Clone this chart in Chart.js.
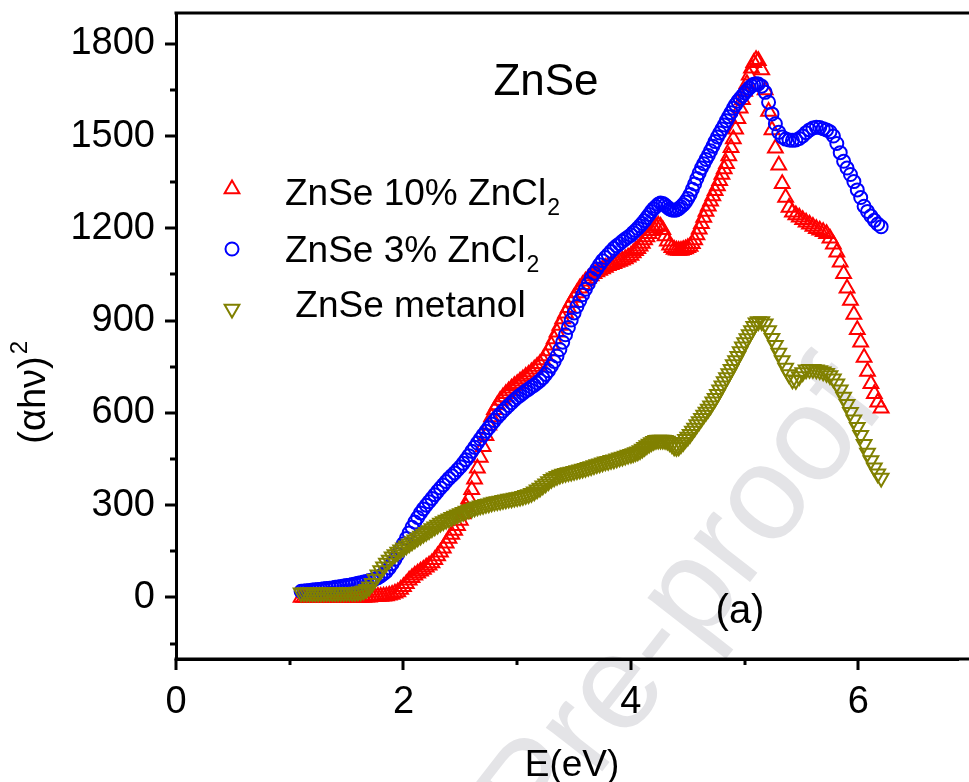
<!DOCTYPE html>
<html>
<head>
<meta charset="utf-8">
<script src="https://cdn.jsdelivr.net/npm/chart.js@4"></script>
<style>
  html, body { margin: 0; padding: 0; background: #fff; overflow: hidden; }
  canvas { display: block; }
</style>
</head>
<body>
<canvas id="myChart" width="969" height="782"></canvas>
<script>
// photon energy (eV)
const energy = [
  1.100, 1.125, 1.150, 1.175, 1.200, 1.225, 1.250, 1.275, 1.300, 1.325,
  1.350, 1.375, 1.400, 1.425, 1.450, 1.475, 1.500, 1.525, 1.550, 1.575,
  1.600, 1.625, 1.650, 1.675, 1.700, 1.725, 1.750, 1.775, 1.800, 1.825,
  1.850, 1.875, 1.900, 1.925, 1.950, 1.975, 2.000, 2.025, 2.050, 2.075,
  2.100, 2.125, 2.150, 2.175, 2.200, 2.225, 2.250, 2.275, 2.300, 2.325,
  2.350, 2.375, 2.400, 2.425, 2.450, 2.475, 2.500, 2.525, 2.550, 2.575,
  2.600, 2.625, 2.650, 2.675, 2.700, 2.725, 2.750, 2.775, 2.800, 2.825,
  2.850, 2.875, 2.900, 2.925, 2.950, 2.975, 3.000, 3.025, 3.050, 3.075,
  3.100, 3.125, 3.150, 3.175, 3.200, 3.225, 3.250, 3.275, 3.300, 3.325,
  3.350, 3.375, 3.400, 3.425, 3.450, 3.475, 3.500, 3.525, 3.550, 3.575,
  3.600, 3.625, 3.650, 3.675, 3.700, 3.725, 3.750, 3.775, 3.800, 3.825,
  3.850, 3.875, 3.900, 3.925, 3.950, 3.975, 4.000,
  4.02, 4.04, 4.06, 4.08, 4.10, 4.12, 4.14, 4.16, 4.18, 4.20,
  4.22, 4.24, 4.26, 4.28, 4.30, 4.32, 4.34, 4.36, 4.38, 4.40,
  4.42, 4.44, 4.46, 4.48, 4.50, 4.52, 4.54, 4.56, 4.58, 4.60,
  4.62, 4.64, 4.66, 4.68, 4.70, 4.72, 4.74, 4.76, 4.78, 4.80,
  4.82, 4.84, 4.86, 4.88, 4.90, 4.92, 4.94, 4.96, 4.98, 5.00,
  5.02, 5.04, 5.06, 5.08, 5.10, 5.12,
  5.15, 5.18, 5.21, 5.24, 5.27, 5.30, 5.33, 5.36, 5.39, 5.42,
  5.45, 5.48, 5.51, 5.54, 5.57, 5.60, 5.63, 5.66, 5.69, 5.72,
  5.75, 5.78, 5.81, 5.84, 5.87, 5.90, 5.93, 5.96, 5.99, 6.02,
  6.05, 6.08, 6.11, 6.14, 6.17, 6.20
];

// (alpha h nu)^2, ZnSe 10% ZnCl2
const zncl10 = [
  0, 0, 0, 0, 0, 0, 0, 0, 0, 0,
  0, 0, 0, 0, 0, 0, 0, 0, 0, 0,
  0, 0, 0, 1, 1, 2, 2, 3, 3, 4,
  5, 7, 10, 14, 18, 26, 35, 45, 56, 64,
  72, 79, 85, 91, 98, 105, 112, 123, 135, 147,
  160, 176, 192, 205, 218, 233, 250, 271, 295, 321,
  350, 384, 420, 455, 490, 526, 560, 587, 610, 626,
  640, 652, 662, 671, 680, 688, 695, 703, 710, 718,
  725, 733, 742, 751, 760, 772, 785, 801, 820, 840,
  862, 884, 905, 924, 942, 959, 975, 990, 1005, 1017,
  1028, 1037, 1045, 1052, 1058, 1063, 1068, 1073, 1078, 1082,
  1085, 1089, 1092, 1096, 1100, 1106, 1112,
  1120, 1127, 1134, 1142, 1151, 1162, 1172, 1182, 1192, 1200,
  1206, 1210, 1206, 1195, 1175, 1158, 1145, 1137, 1131, 1129,
  1128, 1128, 1130, 1133, 1137, 1141, 1150, 1162, 1178, 1197,
  1215, 1235, 1255, 1272, 1288, 1305, 1322, 1338, 1355, 1375,
  1393, 1410, 1435, 1462, 1490, 1522, 1556, 1590, 1618, 1645,
  1670, 1698, 1720, 1738, 1748, 1745,
  1715, 1650, 1580, 1520, 1460, 1405, 1345, 1300, 1268, 1252,
  1243, 1236, 1228, 1220, 1213, 1206, 1199, 1194, 1189, 1182,
  1168, 1148, 1122, 1090, 1052, 1005, 965, 920, 870, 830,
  780, 735, 695, 662, 635, 615
];

// ZnSe 3% ZnCl2
const zncl3 = [
  20, 21, 22, 23, 24, 25, 26, 27, 28, 29,
  30, 31, 33, 34, 36, 37, 39, 40, 42, 44,
  46, 48, 50, 52, 55, 57, 60, 64, 70, 77,
  85, 96, 110, 124, 140, 157, 175, 192, 210, 228,
  245, 260, 275, 288, 300, 311, 322, 334, 345, 356,
  366, 377, 387, 396, 405, 415, 425, 436, 448, 461,
  475, 488, 502, 515, 528, 540, 552, 564, 575, 586,
  596, 606, 615, 624, 633, 642, 650, 657, 664, 671,
  677, 684, 690, 697, 705, 714, 725, 737, 752, 767,
  785, 806, 830, 854, 878, 902, 925, 946, 965, 984,
  1002, 1020, 1038, 1054, 1068, 1082, 1095, 1105, 1115, 1125,
  1135, 1143, 1150, 1158, 1165, 1172, 1178,
  1186, 1193, 1200, 1208, 1216, 1225, 1235, 1245, 1255, 1264,
  1271, 1278, 1282, 1281, 1276, 1269, 1263, 1260, 1259, 1260,
  1264, 1270, 1277, 1286, 1297, 1310, 1327, 1344, 1362, 1380,
  1396, 1410, 1424, 1437, 1452, 1467, 1482, 1497, 1510, 1523,
  1536, 1550, 1563, 1576, 1590, 1602, 1613, 1622, 1631, 1640,
  1648, 1656, 1663, 1668, 1670, 1669,
  1662, 1642, 1610, 1572, 1540, 1512, 1497, 1490, 1487, 1486,
  1487, 1492, 1500, 1511, 1520, 1526, 1529, 1528, 1524, 1520,
  1514, 1500, 1476, 1446, 1418, 1396, 1375, 1352, 1325, 1300,
  1272, 1255, 1240, 1226, 1214, 1205
];

// ZnSe metanol
const metanol = [
  15, 15, 15, 15, 15, 15, 15, 15, 15, 16,
  16, 16, 16, 16, 16, 16, 17, 17, 17, 17,
  18, 19, 22, 27, 35, 46, 60, 74, 88, 100,
  112, 122, 132, 140, 148, 155, 162, 168, 175, 181,
  188, 194, 200, 206, 212, 218, 224, 230, 236, 242,
  247, 252, 256, 261, 265, 269, 273, 277, 281, 285,
  288, 292, 295, 298, 300, 303, 305, 308, 310, 312,
  314, 316, 318, 320, 321, 323, 325, 327, 329, 332,
  335, 339, 344, 350, 356, 363, 370, 377, 384, 389,
  394, 398, 401, 404, 406, 408, 410, 413, 415, 418,
  420, 423, 426, 429, 432, 435, 438, 441, 443, 446,
  448, 451, 454, 457, 460, 463, 466,
  468, 471, 474, 478, 483, 488, 494, 499, 504, 508,
  511, 512, 512, 512, 511, 509, 504, 497, 490, 488,
  490, 497, 505, 514, 522, 531, 541, 551, 562, 572,
  583, 593, 603, 613, 623, 636, 648, 661, 675, 688,
  702, 715, 728, 742, 757, 770, 784, 800, 815, 829,
  842, 855, 868, 882, 893, 897,
  897, 890, 868, 843, 820, 795, 770, 746, 725, 708,
  706, 718, 731, 740, 742, 742, 740, 738, 734, 729,
  722, 711, 695, 675, 652, 628, 602, 578, 553, 527,
  498, 470, 445, 422, 402, 388
];

const xTickValues = [0, 1, 2, 3, 4, 5, 6];
const yTickValues = [-150, 0, 150, 300, 450, 600, 750, 900, 1050, 1200, 1350, 1500, 1650, 1800];

const seriesNames = ['ZnSe 10% ZnCl', 'ZnSe 3% ZnCl', ' ZnSe metanol'];
const seriesSub = ['2', '2', ''];
const seriesColors = ['#FF0000', '#0000FF', '#808000'];

const FONT = '"Liberation Sans", Arial, sans-serif';
Chart.defaults.font.family = FONT;
Chart.defaults.color = '#000';

function toPoints(ys) {
  return energy.map((e, i) => ({ x: e, y: ys[i] }));
}

const markers = [
  { pointStyle: 'triangle', radius: 8.5, rotation: 0 },
  { pointStyle: 'circle', radius: 6.5, rotation: 0 },
  { pointStyle: 'triangle', radius: 8.5, rotation: 180 }
];

const data = {
  datasets: [zncl10, zncl3, metanol].map((ys, i) => ({
    label: seriesNames[i],
    data: toPoints(ys),
    showLine: false,
    pointStyle: markers[i].pointStyle,
    pointRotation: markers[i].rotation,
    pointRadius: markers[i].radius,
    pointHoverRadius: markers[i].radius,
    pointBorderWidth: 2,
    pointBorderColor: seriesColors[i],
    pointBackgroundColor: 'rgba(0,0,0,0)',
    order: 3 - i
  }))
};

function noPad(scale) {
  scale.paddingTop = 0;
  scale.paddingBottom = 0;
  scale.paddingLeft = 0;
  scale.paddingRight = 0;
}

const decor = {
  id: 'decor',
  beforeDraw(chart) {
    const ctx = chart.ctx;
    // watermark
    ctx.save();
    ctx.translate(685, 605);
    ctx.rotate(-52 * Math.PI / 180);
    ctx.font = '135px ' + FONT;
    ctx.fillStyle = '#e4e4e7';
    ctx.textAlign = 'center';
    ctx.textBaseline = 'middle';
    ctx.fillText('Pre-proof', 0, 0);
    ctx.restore();
  },
  afterDraw(chart) {
    const ctx = chart.ctx;
    const area = chart.chartArea;
    const xs = chart.scales.x;
    const ys = chart.scales.y;
    ctx.save();
    ctx.strokeStyle = '#000';
    ctx.lineWidth = 3;
    // top frame and bottom axis run to the edge
    ctx.beginPath();
    ctx.moveTo(area.left - 1.5, area.top);
    ctx.lineTo(chart.width, area.top);
    ctx.moveTo(area.left - 1.5, area.bottom);
    ctx.lineTo(chart.width, area.bottom);
    ctx.stroke();
    // y ticks
    ys.ticks.forEach(t => {
      const v = t.value;
      const len = v % 300 === 0 ? 11 : 6;
      const py = Math.round(ys.getPixelForValue(v));
      ctx.beginPath();
      ctx.moveTo(area.left, py);
      ctx.lineTo(area.left - len, py);
      ctx.stroke();
    });
    // x ticks
    xs.ticks.forEach(t => {
      const v = t.value;
      const len = v % 2 === 0 ? 11 : 6;
      const px = Math.round(xs.getPixelForValue(v));
      ctx.beginPath();
      ctx.moveTo(px, area.bottom);
      ctx.lineTo(px, area.bottom + len);
      ctx.stroke();
    });

    ctx.fillStyle = '#000';
    // x title
    ctx.font = '37px ' + FONT;
    ctx.textAlign = 'center';
    ctx.textBaseline = 'alphabetic';
    ctx.fillText('E(eV)', 572, 776);

    // y title
    ctx.save();
    ctx.translate(45, 392);
    ctx.rotate(-Math.PI / 2);
    ctx.font = '38px ' + FONT;
    ctx.textAlign = 'left';
    const yl = '(\u03B1h\u03BD)';
    const w = ctx.measureText(yl).width;
    ctx.fillText(yl, -w / 2 - 8, 0);
    ctx.font = '24px ' + FONT;
    ctx.fillText('2', w / 2 - 6, -18);
    ctx.restore();

    // title and panel letter
    ctx.font = '44px ' + FONT;
    ctx.textAlign = 'center';
    ctx.fillText('ZnSe', 546, 95);
    ctx.font = '40px ' + FONT;
    ctx.fillText('(a)', 740, 623);

    // legend
    const lx = 232;
    const rows = [189, 249, 309];
    const baselines = [205, 262, 317];
    rows.forEach((ry, i) => {
      ctx.save();
      ctx.strokeStyle = seriesColors[i];
      ctx.fillStyle = 'rgba(0,0,0,0)';
      ctx.lineWidth = 2;
      Chart.helpers.drawPoint(ctx, {
        pointStyle: markers[i].pointStyle,
        radius: i === 1 ? 6.5 : 8.5,
        rotation: markers[i].rotation,
        borderWidth: 2
      }, lx, ry);
      ctx.restore();
      ctx.font = '37px ' + FONT;
      ctx.textAlign = 'left';
      ctx.fillStyle = '#000';
      ctx.fillText(seriesNames[i], 285, baselines[i]);
      if (seriesSub[i]) {
        const tw = ctx.measureText(seriesNames[i]).width;
        ctx.font = '23px ' + FONT;
        ctx.fillText(seriesSub[i], 285 + tw + 1, baselines[i] + 10);
      }
    });
    ctx.restore();
  }
};

const config = {
  type: 'scatter',
  data: data,
  options: {
    responsive: false,
    animation: false,
    events: [],
    layout: {
      padding: { top: 13, right: 0, left: 0, bottom: 0 }
    },
    scales: {
      x: {
        type: 'linear',
        min: 0,
        max: 6.88,
        afterBuildTicks(scale) { scale.ticks = xTickValues.map(v => ({ value: v })); },
        afterFit(scale) { scale.height = 123; noPad(scale); },
        grid: { display: false, drawTicks: false },
        border: { display: true, width: 3, color: '#000' },
        ticks: {
          autoSkip: false,
          maxRotation: 0,
          padding: 21,
          font: { size: 38 },
          color: '#000',
          callback: v => (v % 2 === 0) ? v : ''
        }
      },
      y: {
        type: 'linear',
        min: -200,
        max: 1900,
        afterBuildTicks(scale) { scale.ticks = yTickValues.map(v => ({ value: v })); },
        afterFit(scale) { scale.width = 176; noPad(scale); },
        grid: { display: false, drawTicks: false },
        border: { display: true, width: 3, color: '#000' },
        ticks: {
          autoSkip: false,
          padding: 21,
          font: { size: 38 },
          color: '#000',
          callback: v => (v % 300 === 0) ? v : ''
        }
      }
    },
    plugins: {
      legend: { display: false },
      tooltip: { enabled: false }
    }
  },
  plugins: [decor]
};

const grafico = new Chart(document.getElementById('myChart'), config);
</script>
</body>
</html>
